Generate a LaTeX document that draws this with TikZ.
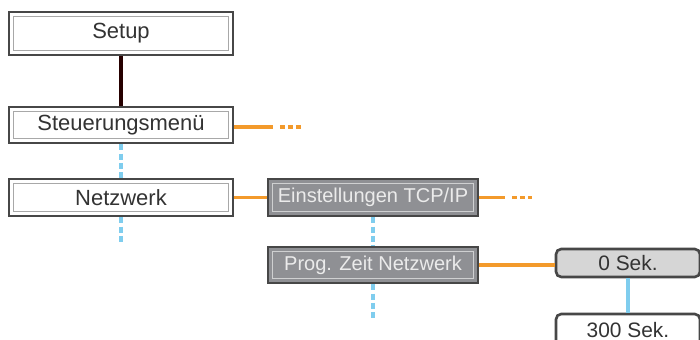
\documentclass[tikz,border=0pt]{standalone}
\usepackage{fontspec}
\setmainfont{Liberation Sans}
\definecolor{rahmen}{HTML}{474747}
\definecolor{innen}{HTML}{A8A8A8}
\definecolor{grau}{HTML}{8F9094}
\definecolor{hell}{HTML}{EBEBEB}
\definecolor{text}{HTML}{333333}
\definecolor{knopf}{HTML}{D6D6D6}
\definecolor{orangeline}{HTML}{F39A2B}
\definecolor{blauline}{HTML}{7FCDEE}
\tikzset{
  menu/.style={draw=rahmen, line width=1.5pt, fill=white, text=text, inner sep=0pt,
    minimum width=224*0.02cm, font=\fontsize{12.5}{14}\selectfont,
    path picture={\draw[innen, line width=0.7pt]
      ([xshift=2.4pt,yshift=2.4pt]path picture bounding box.south west) rectangle
      ([xshift=-2.4pt,yshift=-2.4pt]path picture bounding box.north east);}},
  untermenu/.style={menu, fill=grau, text=hell, minimum width=210*0.02cm,
    font=\fontsize{11.4}{14}\selectfont,
    path picture={\draw[hell!70!grau, line width=0.7pt]
      ([xshift=2.4pt,yshift=2.4pt]path picture bounding box.south west) rectangle
      ([xshift=-2.4pt,yshift=-2.4pt]path picture bounding box.north east);}},
  wert/.style={draw=rahmen, line width=1.5pt, rounded corners=3pt, text=text, inner sep=0pt,
    minimum width=144*0.02cm, font=\fontsize{11.9}{14}\selectfont},
  orangestrich/.style={orangeline, line width=2.2pt},
  orangepunkte/.style={orangeline, line width=2.2pt, dash pattern=on 2.8pt off 1.7pt},
  blaupunkte/.style={blauline, line width=2pt, dash pattern=on 3.5pt off 1.8pt},
}
\begin{document}
\begin{tikzpicture}[x=0.02cm,y=-0.02cm]
\clip (0,0) rectangle (700,340);

\node[menu, minimum height=43*0.02cm] (setup) at (121,33.5) {Setup};
\node[menu, minimum height=36*0.02cm] (steuer) at (121,125) {Steuerungsmenü};
\node[menu, minimum height=37*0.02cm] (netz) at (121,197.5) {Netzwerk};
\node[untermenu, minimum height=37*0.02cm] (tcpip) at (373,197.5) {Einstellungen TCP/IP};
\node[untermenu, minimum height=36*0.02cm] (zeit) at (373,265) {Prog. Zeit Netzwerk};
\node[wert, fill=knopf, minimum height=28*0.02cm] (sek0) at (628,263) {0 Sek.};
\node[wert, fill=white, minimum height=32*0.02cm] (sek300) at (628,330) {300 Sek.};

\coordinate (steuer-dots) at (273,127);
\coordinate (steuer-more) at (302,127);
\coordinate (tcpip-dots) at (505,197.5);
\coordinate (tcpip-more) at (532,197.5);
\coordinate (netz-more) at (121,245);
\coordinate (zeit-more) at (373,320);

\draw[line width=2pt, black!85!red] (setup) -- (steuer);
\draw[blaupunkte] (steuer) -- (netz);
\draw[blaupunkte] (netz) -- (netz-more);
\draw[blaupunkte] (tcpip) -- (zeit);
\draw[blaupunkte] (zeit) -- (zeit-more);
\draw[blauline, line width=2pt] (sek0) -- (sek300);

\draw[orangestrich] (steuer.east |- steuer-dots) -- (steuer-dots);
\draw[orangepunkte] ([xshift=4pt]steuer-dots) -- (steuer-more);
\draw[orangestrich] (netz) -- (tcpip);
\draw[orangestrich] (tcpip) -- (tcpip-dots);
\draw[orangepunkte] ([xshift=4pt]tcpip-dots) -- (tcpip-more);
\draw[orangestrich] (zeit) -- (sek0.west |- zeit);

\end{tikzpicture}
\end{document}
